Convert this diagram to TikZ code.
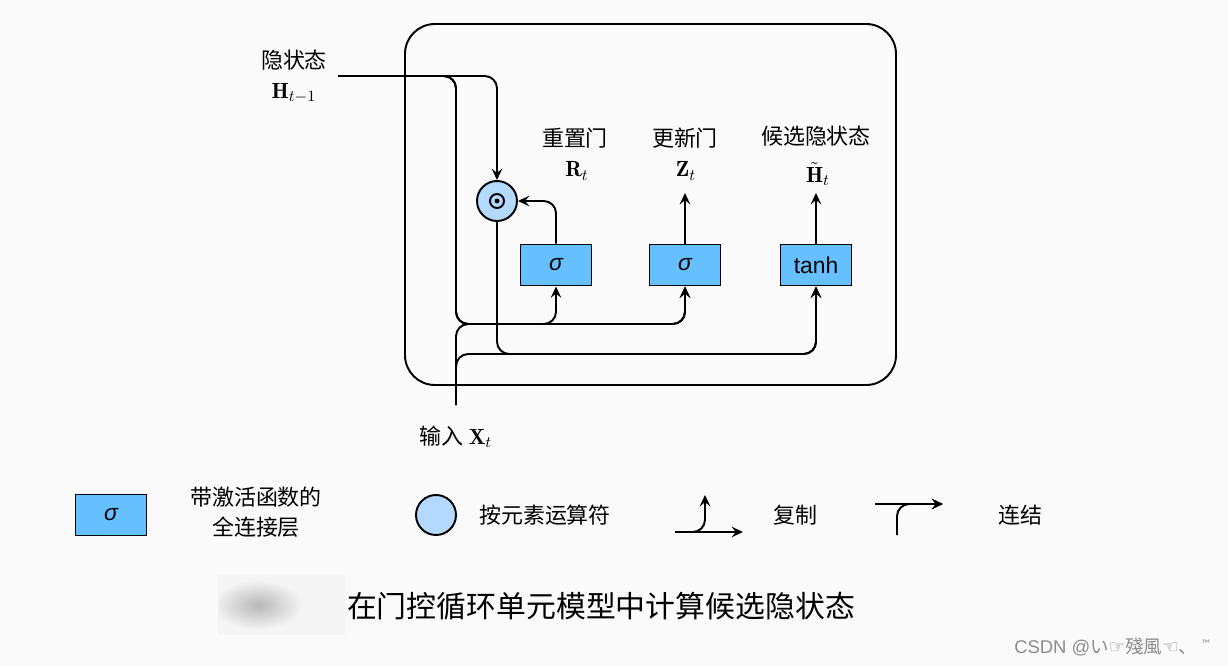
\documentclass[tikz,border=0pt]{standalone}
\usepackage{fontspec}
\usetikzlibrary{arrows.meta}
\newfontfamily\cjk{Noto Sans CJK SC}
\newfontfamily\sansf{Liberation Sans}
\newfontfamily\symf{DejaVu Sans}
\definecolor{boxblue}{RGB}{102,192,255}
\definecolor{opblue}{RGB}{179,217,255}
\definecolor{bgcol}{RGB}{250,250,250}
\tikzset{
  wire/.style={line width=1.1pt,rounded corners=7pt},
  gate/.style={draw,line width=1.1pt,fill=boxblue,minimum width=1.42cm,minimum height=0.82cm,inner sep=0pt,font=\sansf\fontsize{13}{15}\selectfont},
  elemop/.style={draw,circle,line width=1.1pt,fill=opblue,minimum size=0.8cm,inner sep=0pt},
  lab/.style={font=\cjk\fontsize{12.5}{15}\selectfont,align=center,inner sep=1pt},
  sym/.style={font=\fontsize{12.5}{15}\selectfont,inner sep=1pt}
}
\begin{document}
\begin{tikzpicture}[>={Stealth[length=6.5pt,width=6pt,inset=2.5pt]},x=0.02cm,y=-0.02cm]
  % page
  \fill[bgcol] (0,0) rectangle (1228,666);
  \useasboundingbox (0,0) rectangle (1228,666);
  % cell frame
  \draw[line width=1.1pt,rounded corners=17pt] (405,24) rectangle (896,385);
  % gates
  \node[gate] (r) at (556,265) {\itshape σ};
  \node[gate] (z) at (685,265) {\itshape σ};
  \node[gate] (h) at (816,265) {tanh};
  \node[elemop] (mul) at (497,201) {};
  \draw[line width=1.1pt] (mul) circle (0.14cm);
  \fill (mul) circle (0.05cm);
  % labels
  \node[lab] (hlab) at (294,60) {隐状态};
  \node[sym] (hsym) at (294,93) {$\mathbf{H}_{t-1}$};
  \node[lab] (rlab) at (575,138) {重置门};
  \node[sym] (rsym) at (577,171) {$\mathbf{R}_t$};
  \node[lab] (zlab) at (685,138) {更新门};
  \node[sym] (zsym) at (686,171) {$\mathbf{Z}_t$};
  \node[lab] (htlab) at (816,136) {候选隐状态};
  \node[sym,inner sep=0pt] (htsym) at (818,174) {$\tilde{\mathbf{H}}_t$};
  \node[lab,anchor=center] (xlab) at (456,437) {输入 \normalfont$\mathbf{X}_t$};
  % wire ends
  \coordinate (hin) at (338,76);
  \coordinate (xin) at (456,405);
  \coordinate (jz) at (456,324);
  \coordinate (jh) at (497,354);
  % hidden state
  \draw[wire,->] (hin) -| (mul.north);
  \draw[wire,->] (hin) -| (jz) -| (r.south);
  \draw[wire,->] (hin) -| (jz) -| (z.south);
  % input
  \draw[wire,->] (xin) -- (jz) -| (z.south);
  \draw[wire,->] (xin) |- (jh) -| (h.south);
  % reset product to candidate
  \draw[wire,->] (mul.south) -- (jh) -| (h.south);
  % gate outputs
  \draw[wire,->] (r.north) |- (mul.east);
  \draw[wire,->] (z.north) -- (z.north |- 0,193);
  \draw[wire,->] (h.north) -- (h.north |- 0,193);
  % legend
  \node[gate] (lbox) at (111,515) {\itshape σ};
  \node[lab] (lboxt) at (256,512) {带激活函数的\\[2pt]全连接层};
  \node[elemop] (lop) at (436,515) {};
  \node[lab] (lopt) at (545,515) {按元素运算符};
  \coordinate (cpa) at (675,532);
  \coordinate (cpb) at (743,532);
  \coordinate (cpt) at (705,495);
  \draw[wire,->] (cpa) -- (cpb);
  \draw[wire,->] (cpa) -| (cpt);
  \node[lab] (cpt) at (795,515) {复制};
  \coordinate (cca) at (875,504);
  \coordinate (ccb) at (943,504);
  \coordinate (ccs) at (897,535);
  \draw[wire,->] (cca) -- (ccb);
  \draw[wire,->] (ccs) |- (ccb);
  \node[lab] (cct) at (1020,515) {连结};
  % caption
  \begin{scope}
    \clip (218,575) rectangle (345,635);
    \fill[black!4] (218,575) rectangle (345,635);
    \shade[inner color=black!28,outer color=black!4] (258,605) ellipse (0.9cm and 0.5cm);
  \end{scope}
  \node[font=\cjk\fontsize{17}{20}\selectfont,inner sep=0pt] (cap) at (601,606) {在门控循环单元模型中计算候选隐状态};
  \node[font=\fontsize{10.5}{12}\selectfont,text=black!45,inner sep=0pt] (mark) at (1113,647)
    {\sansf CSDN @\cjk い\symf ☞\cjk 殘風\symf ☜\cjk 、\symf\,\raisebox{3pt}{\fontsize{6.5}{7}\selectfont ™}};
\end{tikzpicture}
\end{document}
